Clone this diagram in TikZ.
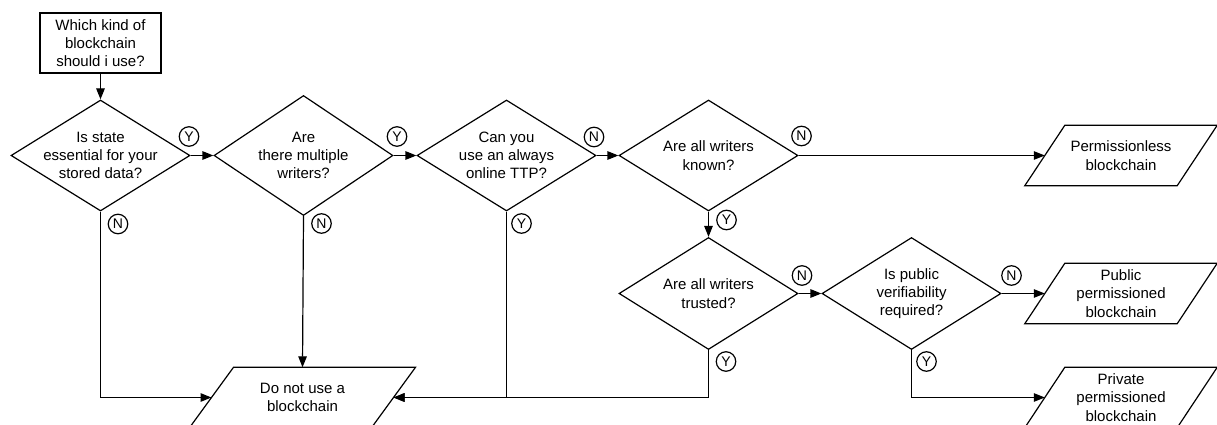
\documentclass[tikz,border=0pt]{standalone}
\usepackage{fontspec}
\setmainfont{Liberation Sans}
\usetikzlibrary{shapes.geometric,arrows.meta}
\begin{document}
\begin{tikzpicture}[x=1pt,y=-1pt,
  every node/.style={font=\fontsize{15}{18.3}\selectfont},
  ln/.style={line width=1.2pt, line join=miter},
  arr/.style={ln, -{Triangle[length=11pt,width=8.5pt]}},
  dec/.style={ln, draw, diamond, minimum width=179pt, minimum height=111pt, inner sep=0pt},
  txt/.style={align=center, inner sep=0pt},
  box/.style={ln, draw, minimum width=121pt, minimum height=60pt, align=center, inner sep=0pt},
  io/.style={minimum height=60pt, inner sep=0pt, align=center},
  yn/.style={ln, draw, circle, minimum size=19.5pt, inner sep=0pt, font=\fontsize{14}{14}\selectfont}
]
\useasboundingbox (0,0) rectangle (1217,425);

% start
\node[box] (start) at (100.5,43) {Which kind of\\blockchain\\should i use?};

% decisions
\node[dec] (d1) at (100.5,155.5) {};
\node[txt] (t1) at (d1) {Is state\\essential for your\\stored data?};
\node[dec, minimum height=120pt] (d2) at (303.5,155.5) {};
\node[txt] (t2) at (d2) {Are\\there multiple\\writers?};
\node[dec] (d3) at (506.5,155.5) {};
\node[txt] (t3) at (d3) {Can you\\use an always\\online TTP?};
\node[dec] (d4) at (708.5,155.5) {};
\node[txt] (t4) at (d4) {Are all writers\\known?};
\node[dec, minimum height=112pt] (d5) at (708.5,293.5) {};
\node[txt] (t5) at (d5) {Are all writers\\trusted?};
\node[dec, minimum height=112pt] (d6) at (911.5,293.5) {};
\node[txt] (t6) at (d6) {Is public\\verifiability\\required?};

% outcomes
\node[io, minimum width=181.6pt] (dont) at (302.5,397.5) {Do not use a\\blockchain};
\node[io, minimum width=152pt] (perm) at (1121,155.5) {Permissionless\\blockchain};
\node[io, minimum width=152pt] (pub) at (1121,293.5) {Public\\permissioned\\blockchain};
\node[io, minimum width=152pt] (priv) at (1121,397.5) {Private\\permissioned\\blockchain};

\draw[ln] ([xshift=-22pt]dont.south west) -- ([xshift=22pt]dont.north west) -- ([xshift=22pt]dont.north east) -- ([xshift=-22pt]dont.south east) -- cycle;
\foreach \n in {perm,pub,priv}
  \draw[ln] ([xshift=-20pt]\n.south west) -- ([xshift=20pt]\n.north west) -- ([xshift=20pt]\n.north east) -- ([xshift=-20pt]\n.south east) -- cycle;

% connectors
\draw[arr] (start) -- (d1);
\draw[arr] (d1.east) -- (d2.west);
\draw[arr] (d2.east) -- (d3.west);
\draw[arr] (d3.east) -- (d4.west);
\draw[arr] (d4.east) -- (perm.west);
\draw[arr] (d4.south) -- (d5.north);
\draw[arr] (d5.east) -- (d6.west);
\draw[arr] (d6.east) -- (pub.west);
\draw[arr] (d6.south) |- (priv.west);
\draw[arr] (d1.south) |- (dont.west);
\draw[arr] (d2.south) -- (dont.north);
\draw[arr] (d3.south) |- (dont.east);
\draw[arr] (d5.south) |- (dont.east);

% Y/N labels
\node[yn] (y1) at (189,136.5) {Y};
\node[yn] (y2) at (397,136.5) {Y};
\node[yn] (n3) at (594,137) {N};
\node[yn] (n4) at (801.5,136) {N};
\node[yn] (n1) at (118,224) {N};
\node[yn] (n2) at (321.5,223.5) {N};
\node[yn] (y3) at (521.5,223.5) {Y};
\node[yn] (y4) at (726.5,220) {Y};
\node[yn] (n5) at (802,275.5) {N};
\node[yn] (y5) at (726,361.5) {Y};
\node[yn] (n6) at (1011.5,275.5) {N};
\node[yn] (y6) at (926.5,361.5) {Y};
\end{tikzpicture}
\end{document}
